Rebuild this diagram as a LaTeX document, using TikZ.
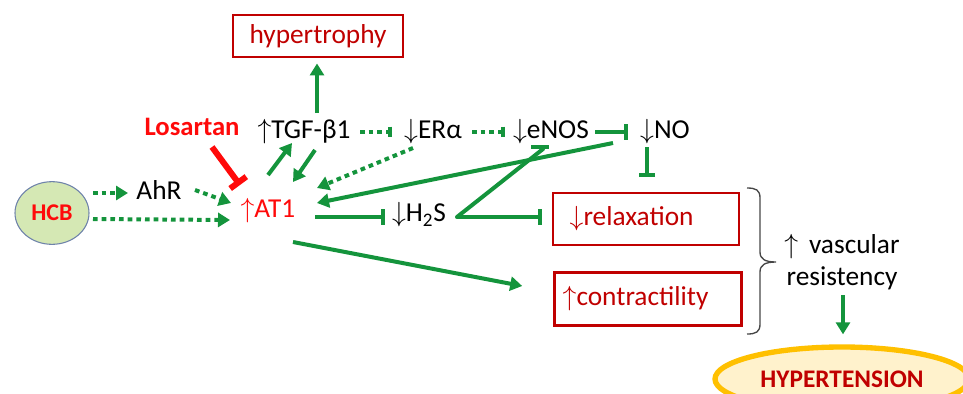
\documentclass[tikz,border=0pt]{standalone}
\usepackage{fontspec}
\setmainfont{Carlito}
\usetikzlibrary{arrows.meta,shapes.geometric,calc}
\definecolor{grn}{RGB}{20,148,60}
\definecolor{dred}{RGB}{192,0,0}
\definecolor{bred}{RGB}{255,10,10}
\definecolor{hcbfill}{RGB}{213,232,180}
\definecolor{hcbdraw}{RGB}{110,130,170}
\definecolor{orng}{RGB}{255,192,0}
\definecolor{lyel}{RGB}{255,242,204}
\definecolor{brc}{RGB}{70,70,70}
\begin{document}
\begin{tikzpicture}[x=0.75pt,y=-0.75pt,
  font=\fontsize{20.5}{24}\selectfont,
  every node/.style={inner sep=1pt},
  box/.style={draw=dred, line width=2.2pt, text=dred, inner sep=0pt},
  act/.style={draw=grn, line width=3pt, -{Triangle[length=9pt,width=10.5pt]}},
  inh/.style={draw=grn, line width=3pt, -{Bar[width=12pt,line width=3pt]}},
  dinh/.style={draw=grn, line width=3pt, -{Bar[width=8pt,line width=3pt]}},
  dots/.style={dash pattern=on 3.5pt off 3pt},
  bld/.style={font=\fontsize{20}{24}\selectfont\bfseries}
]
\useasboundingbox (0,0) rectangle (963,393);
\begin{scope}
\clip (0,0) rectangle (963,393);
% nodes
\node[ellipse, draw=hcbdraw, fill=hcbfill, line width=0.8pt, minimum width=55.5pt, minimum height=47pt, text=bred, bld, font=\fontsize{18}{21}\selectfont\bfseries] (hcb) at (52,213) {HCB};
\node (ahr) at (159,190) {AhR};
\node[text=bred] (at1) at (268,211) {$\uparrow$AT1};
\node[text=bred, bld] (los) at (192,127) {Losartan};
\node (tgf) at (304,132) {$\uparrow$TGF-β1};
\node (era) at (433,132) {$\downarrow$ERα};
\node (enos) at (551,132) {$\downarrow$eNOS};
\node (no) at (665,132) {$\downarrow$NO};
\node (h2s) at (419,215) {$\downarrow$H\textsubscript{2}S};
\node[box, minimum width=127.5pt, minimum height=31.5pt] (hyp) at (318,36) {hypertrophy};
\node[box, minimum width=139.5pt, minimum height=39pt, inner xsep=12.5pt, text width=114.5pt, align=left] (rel) at (646,219) {$\downarrow$relaxation};
\node[box, minimum width=140pt, minimum height=40pt, inner xsep=6pt, text width=128pt, align=left] (con) at (648,299) {$\uparrow$contractility};
\node[align=center, font=\fontsize{20.5}{23.5}\selectfont] (vr) at (842,262) {$\uparrow$\, vascular\\resistency};
\node[ellipse, draw=orng, fill=lyel, line width=4pt, minimum width=190.5pt, minimum height=48pt, text=dred, font=\fontsize{19}{22}\selectfont\bfseries] (ht) at (842,379) {HYPERTENSION};
% connectors
\draw[act,dots] ($(hcb)+(41,-20)$) -- ($(ahr)+(-31,3)$);
\draw[act,dots] ($(hcb)+(41,6)$) -- ($(at1)+(-38,9)$);
\draw[act,dots] ($(ahr)+(36,0)$) -- ($(at1)+(-37,-8)$);
\draw[draw=bred, line width=4.5pt, -{Bar[width=15pt,line width=4.5pt]}] ($(los)+(20,20)$) -- ($(at1)+(-28,-26)$);
\draw[act] ($(at1)+(0,-36)$) -- ($(tgf)+(-12,11)$);
\draw[act] ($(tgf)+(11,18)$) -- ($(at1)+(25,-29)$);
\draw[act] ($(tgf)+(13,-19)$) -- ($(hyp.south)+(-1,5)$);
\draw[dinh,dots] ($(tgf)+(56,0)$) -- ($(era)+(-41,0)$);
\draw[dinh,dots] ($(era)+(39,0)$) -- ($(enos)+(-46,0)$);
\draw[inh] ($(enos)+(44,0)$) -- ($(no)+(-37,0)$);
\draw[act,dots] ($(era)+(-20,16)$) -- ($(at1)+(49,-23)$);
\draw[act] ($(no)+(-52,11)$) -- ($(at1)+(49,-8)$);
\draw[inh] ($(no)+(-18,15)$) -- ($(rel.north)+(1,-15)$);
\draw[inh] ($(at1)+(47,6)$) -- ($(h2s)+(-34,2)$);
\draw[draw=grn, line width=3pt, line cap=round] ($(h2s)+(38,2)$) -- ($(enos)+(-8,17)$);
\draw[draw=grn, line width=3pt] ($(enos)+(-20,15)$) -- ($(enos)+(-2,15)$);
\draw[inh] ($(h2s)+(38,2)$) -- ($(rel.west)+(-10,-2)$);
\draw[act] ($(at1)+(25,31)$) -- ($(con.west)+(-31,-13)$);
\draw[act] ($(vr)+(1,33)$) -- ($(ht.north)+(1,-10)$);
% brace
\draw[brc, line width=1pt] (747,188) .. controls (756,188) and (760,190) .. (760,198) -- (760,252)
  .. controls (760,259) and (765,262) .. (776,262)
  .. controls (765,262) and (760,265) .. (760,272) -- (760,324)
  .. controls (760,332) and (756,334) .. (747,334);
\end{scope}
\end{tikzpicture}
\end{document}
